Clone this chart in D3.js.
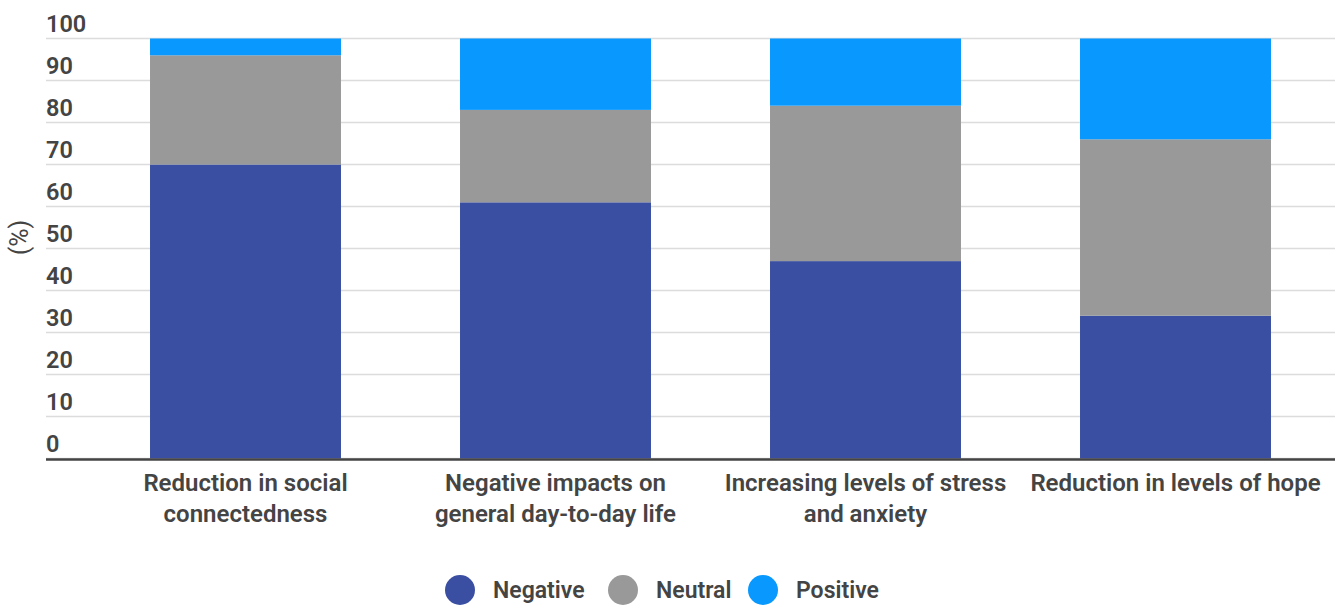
<!DOCTYPE html>
<html>
<head>
<meta charset="utf-8">
<script src="https://cdn.jsdelivr.net/npm/d3@7"></script>
<style>
  html, body { margin: 0; padding: 0; background: #fff; }
  svg { display: block; font-family: Roboto, "Noto Sans", sans-serif; }
</style>
</head>
<body>
<svg id="chart" width="1335" height="605"></svg>
<script>
// Survey responses, percent of respondents
const categories = [
  ["Reduction in social", "connectedness"],
  ["Negative impacts on", "general day-to-day life"],
  ["Increasing levels of stress", "and anxiety"],
  ["Reduction in levels of hope"]
];
const seriesNames = ["Negative", "Neutral", "Positive"];
const negative = [70, 61, 47, 34];
const neutral  = [26, 22, 37, 42];
const positive = [4, 17, 16, 24];
const yTicks = [0, 10, 20, 30, 40, 50, 60, 70, 80, 90, 100];
const colors = ["#3a4fa2", "#999999", "#0898fe"];

const svg = d3.select("#chart");
const plot = { left: 46, right: 1335, top: 38.5, bottom: 458.5 };

const keys = categories.map(c => c.join(" "));
const rows = keys.map((k, i) => ({ key: k, Negative: negative[i], Neutral: neutral[i], Positive: positive[i] }));
const stacked = d3.stack().keys(seriesNames)(rows);

const x = d3.scaleBand()
  .domain(keys)
  .range([90.5, 1330.5])
  .paddingInner(0.384)
  .paddingOuter(0.192);

const y = d3.scaleLinear().domain([0, 100]).range([plot.bottom, plot.top]);

// gridlines
svg.append("g")
  .selectAll("line")
  .data(yTicks)
  .join("line")
  .attr("x1", plot.left).attr("x2", plot.right)
  .attr("y1", d => y(d)).attr("y2", d => y(d))
  .attr("stroke", "#dcdcdc").attr("stroke-width", 1.5);

// y tick labels, sitting above each gridline
svg.append("g")
  .selectAll("text")
  .data(yTicks)
  .join("text")
  .attr("x", plot.left)
  .attr("y", d => y(d) - 7)
  .attr("fill", "#444")
  .attr("font-size", 23.5)
  .attr("font-weight", 600)
  .text(d => d);

// y axis title
svg.append("text")
  .attr("transform", `translate(28,${(plot.top + plot.bottom) / 2 - 11}) rotate(-90)`)
  .attr("text-anchor", "middle")
  .attr("fill", "#444")
  .attr("font-size", 25)
  .text("(%)");

// stacked bars
svg.append("g")
  .selectAll("g")
  .data(stacked)
  .join("g")
  .attr("fill", (d, i) => colors[i])
  .selectAll("rect")
  .data(d => d)
  .join("rect")
  .attr("x", d => x(d.data.key))
  .attr("width", x.bandwidth())
  .attr("y", d => y(d[1]))
  .attr("height", d => y(d[0]) - y(d[1]));

// baseline
svg.append("line")
  .attr("x1", plot.left).attr("x2", plot.right)
  .attr("y1", y(0) + 1).attr("y2", y(0) + 1)
  .attr("stroke", "#444").attr("stroke-width", 2.5);

// category labels
const xl = svg.append("g")
  .selectAll("text")
  .data(categories)
  .join("text")
  .attr("x", (d, i) => x(keys[i]) + x.bandwidth() / 2)
  .attr("y", 491)
  .attr("text-anchor", "middle")
  .attr("fill", "#444")
  .attr("font-size", 24)
  .attr("font-weight", 600);
xl.selectAll("tspan")
  .data(d => d)
  .join("tspan")
  .attr("x", function () { return d3.select(this.parentNode).attr("x"); })
  .attr("dy", (d, i) => i === 0 ? 0 : 31)
  .text(d => d);

// legend
const legendX = [460, 623, 763];
const lg = svg.append("g")
  .selectAll("g")
  .data(seriesNames)
  .join("g")
  .attr("transform", (d, i) => `translate(${legendX[i]},590)`);
lg.append("circle").attr("r", 15).attr("fill", (d, i) => colors[i]);
lg.append("text")
  .attr("x", 33).attr("y", 8)
  .attr("fill", "#444")
  .attr("font-size", 23)
  .attr("font-weight", 600)
  .text(d => d);
</script>
</body>
</html>
